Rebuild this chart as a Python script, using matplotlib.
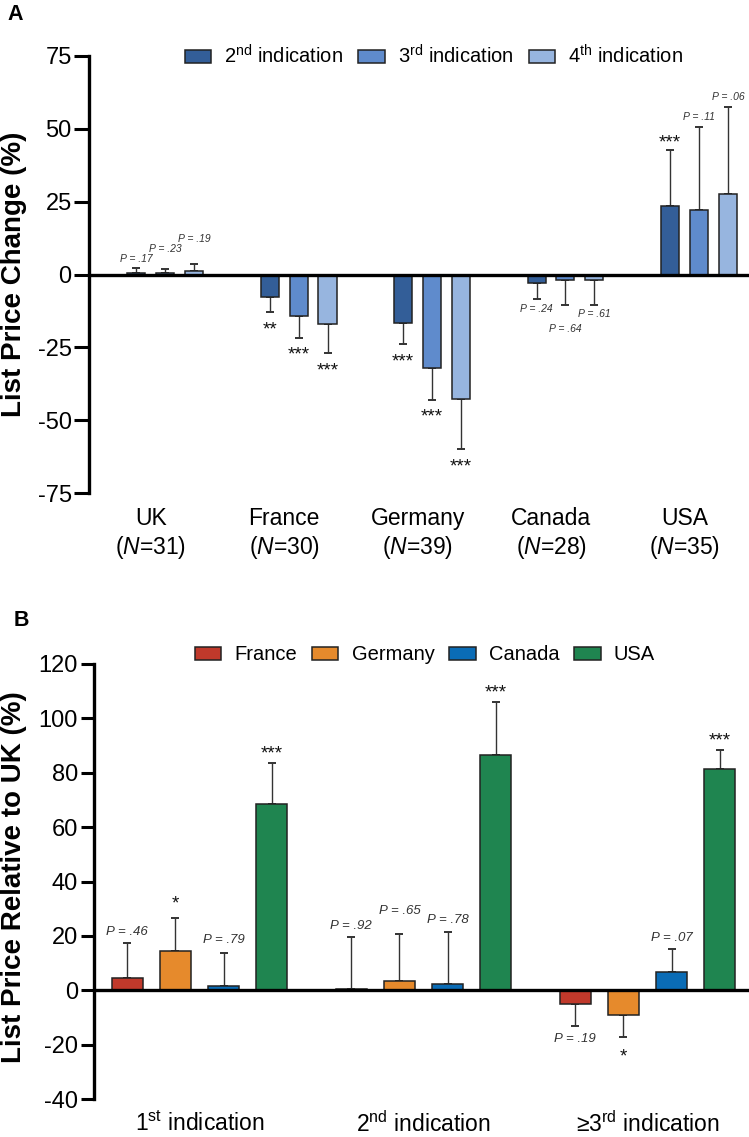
import numpy as np
import matplotlib.pyplot as plt
from matplotlib.patches import Patch

plt.rcParams['font.family'] = ['Liberation Sans', 'DejaVu Sans']
plt.rcParams['axes.unicode_minus'] = False
plt.rcParams['mathtext.fontset'] = 'custom'
plt.rcParams['mathtext.rm'] = 'Liberation Sans'
plt.rcParams['mathtext.it'] = 'Liberation Sans:italic'
plt.rcParams['mathtext.bf'] = 'Liberation Sans:bold'

# ---- panel A data: list price change after each new indication
countries = ["UK", "France", "Germany", "Canada", "USA"]
n_products = [31, 30, 39, 28, 35]
indications_a = ["2$^{\\mathrm{nd}}$ indication",
                 "3$^{\\mathrm{rd}}$ indication",
                 "4$^{\\mathrm{th}}$ indication"]
change_2nd = [0.5, -7.7, -16.5, -2.9, 23.5]
change_3rd = [0.5, -14.2, -32.0, -2.0, 22.2]
change_4th = [1.2, -16.9, -42.7, -1.8, 27.5]
sd_2nd = [1.6, 5.3, 7.5, 5.6, 19.4]
sd_3rd = [1.5, 7.5, 11.0, 8.5, 28.4]
sd_4th = [2.4, 10.1, 17.3, 8.5, 30.1]
sig_2nd = ["P = .17", "**", "***", "P = .24", "***"]
sig_3rd = ["P = .23", "***", "***", "P = .64", "P = .11"]
sig_4th = ["P = .19", "***", "***", "P = .61", "P = .06"]

# ---- panel B data: list price relative to UK
groups_b = ["1$^{\\mathrm{st}}$ indication",
            "2$^{\\mathrm{nd}}$ indication",
            "\u22653$^{\\mathrm{rd}}$ indication"]
countries_b = ["France", "Germany", "Canada", "USA"]
rel_france = [4.4, 0.6, -5.0]
rel_germany = [14.6, 3.4, -9.2]
rel_canada = [1.5, 2.3, 6.8]
rel_usa = [68.5, 86.7, 81.4]
sd_france = [13.1, 19.1, 8.0]
sd_germany = [12.1, 17.4, 8.0]
sd_canada = [12.3, 19.3, 8.2]
sd_usa = [15.0, 19.2, 7.0]
sig_france = ["P = .46", "P = .92", "P = .19"]
sig_germany = ["*", "P = .65", "*"]
sig_canada = ["P = .79", "P = .78", "P = .07"]
sig_usa = ["***", "***", "***"]

blues = ["#335e98", "#5f8bcc", "#97b5df"]
colors_b = ["#c0392b", "#e68a2c", "#0a6cb6", "#1f8550"]
edge = "#222222"


def draw_group_bars(ax, xpos, vals, errs, color, width):
    vals = np.asarray(vals)
    errs = np.asarray(errs)
    lower = np.where(vals < 0, errs, 0)
    upper = np.where(vals >= 0, errs, 0)
    ax.errorbar(xpos, vals, yerr=[lower, upper], fmt='none', ecolor='#333333',
                elinewidth=1.0, capsize=2.6, capthick=1.4, zorder=1)
    ax.bar(xpos, vals, width, color=color, edgecolor=edge, linewidth=1.1, zorder=2)


def annotate(ax, xpos, vals, errs, labels, extra, p_gap, p_size, s_gap):
    for x, v, e, lab, ex in zip(xpos, vals, errs, labels, extra):
        sign = 1 if v >= 0 else -1
        end = v + sign * e
        if lab.startswith("P"):
            ax.annotate(lab, (x, end), xytext=(0, sign * (p_gap + ex)),
                        textcoords='offset points', ha='center', va='center',
                        fontsize=p_size, style='italic', color='#333333')
        else:
            ax.annotate(lab, (x, end), xytext=(0, sign * (s_gap + ex) - 4),
                        textcoords='offset points', ha='center', va='center',
                        fontsize=13.5, color='#111111')


def style_axis(ax, tick_len):
    for s in ["top", "right", "bottom"]:
        ax.spines[s].set_visible(False)
    ax.spines["left"].set_linewidth(2.4)
    ax.axhline(0, color='black', lw=2.4, zorder=3)
    ax.tick_params(axis='y', length=tick_len, width=2.2, pad=2, labelsize=17)
    ax.tick_params(axis='x', length=0, labelsize=16.5)


fig = plt.figure(figsize=(7.49, 11.37), dpi=100)

# ---------------- panel A
axA = fig.add_axes([89 / 749, 1 - 493 / 1137, 1 - 89 / 749, (493 - 56) / 1137])
xa = np.arange(len(countries))
wa = 0.135
da = 0.217
series_a = [(change_2nd, sd_2nd, sig_2nd), (change_3rd, sd_3rd, sig_3rd),
            (change_4th, sd_4th, sig_4th)]
extra_a = [[0, 0, 0, 0, 0], [7, 0, 0, 10, 0], [11, 0, 0, 0, 0]]
for k, (vals, errs, sigs) in enumerate(series_a):
    pos = xa + (k - 1) * da
    draw_group_bars(axA, pos, vals, errs, blues[k], wa)
    annotate(axA, pos, vals, errs, sigs, extra_a[k], 7, 7.5, 8.5)

axA.set_ylim(-75, 75)
axA.set_yticks([-75, -50, -25, 0, 25, 50, 75])
axA.set_xlim(-0.57, 4.375)
axA.set_xticks(xa - 0.108)
axA.set_xticklabels([f"{c}\n($\\mathit{{N}}$={n})" for c, n in zip(countries, n_products)])
style_axis(axA, 10.5)
axA.tick_params(axis='x', pad=10)

handles_a = [Patch(facecolor=blues[k], edgecolor=edge, linewidth=1.1) for k in range(3)]
fig.legend(handles_a, indications_a, loc='center', bbox_to_anchor=(434 / 749, 1 - 56 / 1137),
           ncol=3, frameon=False, fontsize=14.5, handlelength=1.3, handleheight=0.6,
           handletextpad=0.65, columnspacing=0.75)

fig.text(14 / 749, 1 - 274 / 1137, "List Price Change (%)", rotation=90, ha='center',
         va='center', fontsize=20, fontweight='bold')
fig.text(15 / 749, 1 - 14 / 1137, "A", fontsize=15.5, fontweight='bold', ha='center', va='center')

# ---------------- panel B
axB = fig.add_axes([94 / 749, 1 - 1099 / 1137, 1 - 94 / 749, (1099 - 664) / 1137])
xb = np.arange(len(groups_b))
wb = 0.138
db = 0.215
series_b = [(rel_france, sd_france, sig_france), (rel_germany, sd_germany, sig_germany),
            (rel_canada, sd_canada, sig_canada), (rel_usa, sd_usa, sig_usa)]
extra_b = [[0, 0, 2], [3, 8, 0], [1, 0, 0], [0, 0, 0]]
for k, (vals, errs, sigs) in enumerate(series_b):
    pos = xb + (k - 1.5) * db
    draw_group_bars(axB, pos, vals, errs, colors_b[k], wb)
    annotate(axB, pos, vals, errs, sigs, extra_b[k], 8, 9.5, 10.5)

axB.set_ylim(-40, 120)
axB.set_yticks(np.arange(-40, 121, 20))
axB.set_xlim(-0.471, 2.453)
axB.set_xticks(xb)
axB.set_xticklabels(groups_b)
style_axis(axB, 9.5)
axB.tick_params(axis='x', pad=9)

handles_b = [Patch(facecolor=colors_b[k], edgecolor=edge, linewidth=1.1) for k in range(4)]
fig.legend(handles_b, countries_b, loc='center', bbox_to_anchor=(425 / 749, 1 - 655 / 1137),
           ncol=4, frameon=False, fontsize=14.5, handlelength=1.3, handleheight=0.6,
           handletextpad=0.65, columnspacing=0.75)

fig.text(14 / 749, 1 - 877 / 1137, "List Price Relative to UK (%)", rotation=90, ha='center',
         va='center', fontsize=20, fontweight='bold')
fig.text(21 / 749, 1 - 620 / 1137, "B", fontsize=15.5, fontweight='bold', ha='center', va='center')

fig.savefig("out.png", dpi=100)
